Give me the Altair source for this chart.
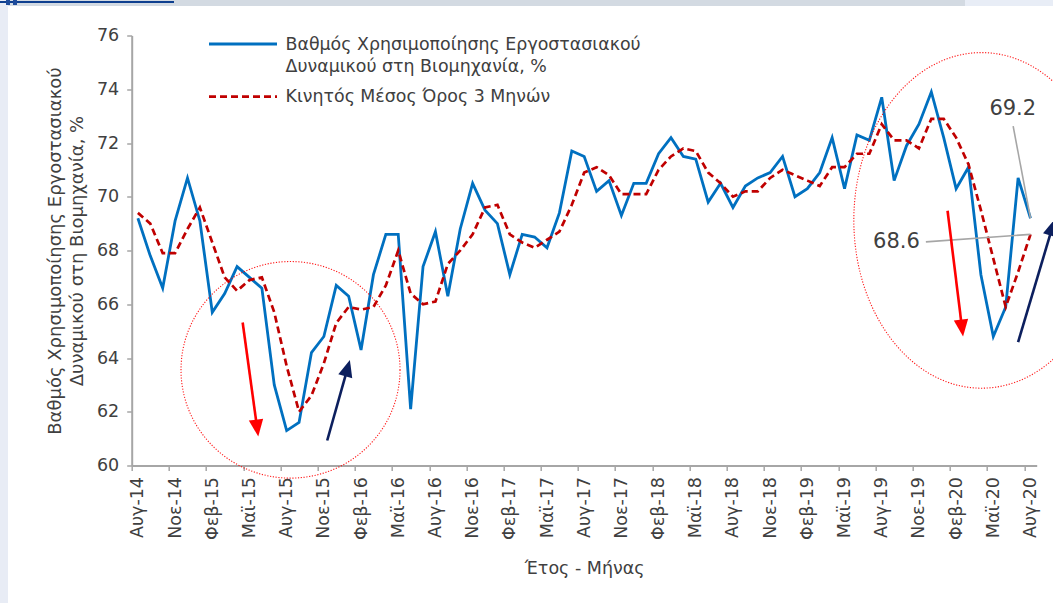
import json
import math

import altair as alt
import pandas as pd

# Capacity utilisation in industry (%), monthly, Aug-2014 .. Aug-2020
UTILISATION = [
    69.2, 67.8, 66.6, 69.1, 70.7, 69.1, 65.7, 66.4, 67.4, 67.0, 66.6, 63.0,
    61.3, 61.6, 64.2, 64.8, 66.7, 66.3, 64.3, 67.1, 68.6, 68.6, 62.1, 67.4,
    68.7, 66.3, 68.8, 70.5, 69.5, 69.0, 67.1, 68.6, 68.5, 68.1, 69.4, 71.7,
    71.5, 70.2, 70.6, 69.3, 70.5, 70.5, 71.6, 72.2, 71.5, 71.4, 69.8, 70.5,
    69.6, 70.4, 70.7, 70.9, 71.5, 70.0, 70.3, 70.9, 72.2, 70.3, 72.3, 72.1,
    73.7, 70.6, 71.9, 72.7, 73.9, 72.2, 70.3, 71.1, 67.1, 64.8, 65.9, 70.7,
    69.2,
]
# 3-month moving average, same months
MOVING_AVG = [
    69.4, 69.0, 67.9, 67.9, 68.8, 69.6, 68.3, 67.0, 66.5, 66.9, 67.0, 65.7,
    63.7, 62.0, 62.6, 63.8, 65.3, 65.9, 65.8, 65.9, 66.7, 68.0, 66.4, 66.0,
    66.1, 67.5, 68.0, 68.6, 69.6, 69.7, 68.6, 68.3, 68.1, 68.4, 68.7, 69.7,
    70.9, 71.1, 70.8, 70.1, 70.1, 70.1, 71.0, 71.5, 71.8, 71.7, 70.9, 70.5,
    70.0, 70.2, 70.2, 70.7, 71.0, 70.8, 70.6, 70.4, 71.1, 71.1, 71.6, 71.6,
    72.7, 72.1, 72.1, 71.8, 72.9, 72.9, 72.2, 71.2, 69.5, 67.7, 65.9, 67.2,
    68.6,
]
# one label every third month
TICK_LABELS = [
    "Αυγ-14", "Νοε-14", "Φεβ-15", "Μαϊ-15", "Αυγ-15", "Νοε-15", "Φεβ-16",
    "Μαϊ-16", "Αυγ-16", "Νοε-16", "Φεβ-17", "Μαϊ-17", "Αυγ-17", "Νοε-17",
    "Φεβ-18", "Μαϊ-18", "Αυγ-18", "Νοε-18", "Φεβ-19", "Μαϊ-19", "Αυγ-19",
    "Νοε-19", "Φεβ-20", "Μαϊ-20", "Αυγ-20",
]
Y_TICKS = [60, 62, 64, 66, 68, 70, 72, 74, 76]

SERIES_NAME = ["Βαθμός Χρησιμοποίησης Εργοστασιακού", "Δυναμικού στη Βιομηχανία, %"]
AVG_NAME = "Κινητός Μέσος Όρος 3 Μηνών"
Y_TITLE = ["Βαθμός Χρησιμοποίησης Εργοστασιακού", "Δυναμικού στη Βιομηχανία, %"]
X_TITLE = "Έτος - Μήνας"

# highlighted episodes: centre (month index, value) and radii in px
ELLIPSES = [
    {"t": 12.31, "v": 63.56, "rx": 109.5, "ry": 108.3},
    {"t": 68.05, "v": 69.12, "rx": 127.7, "ry": 167.8},
]
# trend arrows: start (t0, v0) -> tip (t1, v1)
ARROWS = [
    {"t0": 8.45, "v0": 65.32, "t1": 9.71, "v1": 61.08, "c": "#FF0000"},
    {"t0": 15.27, "v0": 60.93, "t1": 17.10, "v1": 63.93, "c": "#0C1F5E"},
    {"t0": 65.31, "v0": 69.48, "t1": 66.56, "v1": 64.80, "c": "#FF0000"},
    {"t0": 71.00, "v0": 64.59, "t1": 73.96, "v1": 69.17, "c": "#0C1F5E"},
]

FONT = "DejaVu Sans"
TEXT = "#404040"
AXIS_GREY = "#A6A6A6"
BLUE = "#0070C0"
DARK_RED = "#C00000"

W, H = 905, 430
PAD = {"left": 131.7, "top": 35.5, "right": 16.3, "bottom": 137.5}
T_MIN, T_MAX = -0.5, len(UTILISATION) - 0.5
V_MIN, V_MAX = 60, 76
PX_T = W / (T_MAX - T_MIN)
PX_V = H / (V_MAX - V_MIN)

df = pd.DataFrame({
    "t": list(range(len(UTILISATION))),
    "util": UTILISATION,
    "avg": MOVING_AVG,
})

x_scale = alt.Scale(domain=[T_MIN, T_MAX], nice=False, zero=False)
y_scale = alt.Scale(domain=[V_MIN, V_MAX], nice=False, zero=False)

labels_js = json.dumps(TICK_LABELS, ensure_ascii=False)
x_axis = alt.Axis(
    values=list(range(0, len(UTILISATION), 3)),
    labelExpr=f"{labels_js}[round(datum.value / 3)]",
    labelAngle=270,
    labelFont=FONT, labelFontSize=17.5, labelColor=TEXT,
    labelPadding=6, labelFlush=False, labelOverlap=False, labelBound=False,
    tickOffset=-PX_T / 2, labelOffset=PX_T / 2,
    tickSize=5, tickWidth=1.5, tickColor=AXIS_GREY,
    domainColor=AXIS_GREY, domainWidth=2,
    grid=False,
    title=X_TITLE, titleFont=FONT, titleFontSize=17.5, titleFontWeight="normal",
    titleColor=TEXT, titlePadding=20,
)
y_axis = alt.Axis(
    values=Y_TICKS,
    labelFont=FONT, labelFontSize=17.5, labelColor=TEXT, labelPadding=8,
    tickSize=5, tickWidth=1.5, tickColor=AXIS_GREY,
    domainColor=AXIS_GREY, domainWidth=2,
    grid=False,
    title=Y_TITLE, titleFont=FONT, titleFontSize=18, titleFontWeight="normal",
    titleColor=TEXT, titlePadding=10, titleLineHeight=22,
)


def X(field):
    return alt.X(field, scale=x_scale, axis=x_axis)


def Y(field):
    return alt.Y(field, scale=y_scale, axis=y_axis)


util_line = alt.Chart(df).mark_line(color=BLUE, strokeWidth=2.8).encode(
    x=X("t:Q"), y=Y("util:Q"),
)
avg_line = alt.Chart(df).mark_line(
    color=DARK_RED, strokeWidth=2.7, strokeDash=[7, 4]
).encode(x=X("t:Q"), y=Y("avg:Q"))


def ellipse_path(ratio):
    """Unit ellipse (x radius 1) drawn with four cubic curves."""
    k = 0.5523
    b = ratio
    return (
        f"M1,0 C1,{k*b:.4f} {k:.4f},{b:.4f} 0,{b:.4f} "
        f"C{-k:.4f},{b:.4f} -1,{k*b:.4f} -1,0 "
        f"C-1,{-k*b:.4f} {-k:.4f},{-b:.4f} 0,{-b:.4f} "
        f"C{k:.4f},{-b:.4f} 1,{-k*b:.4f} 1,0 Z"
    )


ellipse_layers = []
for e in ELLIPSES:
    ellipse_layers.append(
        alt.Chart(pd.DataFrame({"t": [e["t"]], "v": [e["v"]]})).mark_point(
            shape=ellipse_path(e["ry"] / e["rx"]),
            size=(2 * e["rx"]) ** 2,
            filled=False, stroke="#FF0000", strokeWidth=1.1,
            strokeDash=[1.2, 1.6], opacity=0.9,
        ).encode(x=X("t:Q"), y=Y("v:Q"))
    )

HEAD_LEN = 17
rows = []
for a in ARROWS:
    dx = (a["t1"] - a["t0"]) * PX_T
    dy = -(a["v1"] - a["v0"]) * PX_V
    length = math.hypot(dx, dy)
    frac = (length - HEAD_LEN * 0.85) / length
    rows.append({
        "t0": a["t0"], "v0": a["v0"],
        "te": a["t0"] + (a["t1"] - a["t0"]) * frac,
        "ve": a["v0"] + (a["v1"] - a["v0"]) * frac,
        "t1": a["t1"], "v1": a["v1"], "c": a["c"],
        "ang": math.degrees(math.atan2(dx, -dy)) % 360,
    })
arrow_df = pd.DataFrame(rows)

arrow_shafts = alt.Chart(arrow_df).mark_rule(strokeWidth=2.6).encode(
    x=X("t0:Q"), y=Y("v0:Q"), x2="te:Q", y2="ve:Q",
    color=alt.Color("c:N", scale=None),
)
arrow_heads = alt.Chart(arrow_df).mark_point(
    shape="M0,0 L-0.85,2 L0.85,2 Z", size=HEAD_LEN ** 2, filled=True, opacity=1,
).encode(
    x=X("t1:Q"), y=Y("v1:Q"),
    angle=alt.Angle("ang:Q", scale=None),
    color=alt.Color("c:N", scale=None),
)

# call-outs for the latest month
last_t = len(UTILISATION) - 1
callouts = pd.DataFrame({
    "lt": [70.6, 63.56],
    "lv": [72.63, 68.32],
    "pt": [last_t, last_t],
    "pv": [UTILISATION[-1], MOVING_AVG[-1]],
    "tt": [70.57, 61.19],
    "tv": [73.27, 68.33],
    "label": [f"{UTILISATION[-1]:.1f}", f"{MOVING_AVG[-1]:.1f}"],
})
leaders = alt.Chart(callouts).mark_rule(color="#A6A6A6", strokeWidth=1.6).encode(
    x=X("lt:Q"), y=Y("lv:Q"), x2="pt:Q", y2="pv:Q",
)
callout_text = alt.Chart(callouts).mark_text(
    font=FONT, fontSize=21, color=TEXT, align="center", baseline="middle",
).encode(x=X("tt:Q"), y=Y("tv:Q"), text="label:N")

# legend drawn inside the plot, top left
one = pd.DataFrame({"k": [0]})
OX, OY = PAD["left"], PAD["top"]


def hline(x0, x1, y, **kw):
    return alt.Chart(one).mark_rule(**kw).encode(
        x=alt.value(x0 - OX), x2=alt.value(x1 - OX), y=alt.value(y - OY)
    )


def label(txt, x, y, **kw):
    return alt.Chart(one).mark_text(
        text=txt, font=FONT, color=TEXT, align="left", baseline="alphabetic", **kw
    ).encode(x=alt.value(x - OX), y=alt.value(y - OY))


def box(x0, x1, y0, y1, color):
    return alt.Chart(one).mark_rect(color=color).encode(
        x=alt.value(x0 - OX), x2=alt.value(x1 - OX),
        y=alt.value(y0 - OY), y2=alt.value(y1 - OY),
    )


legend = [
    hline(209, 277, 44, color=BLUE, strokeWidth=2.8),
    label(SERIES_NAME[0], 285.5, 49.5, fontSize=17.4),
    label(SERIES_NAME[1], 285.5, 71.8, fontSize=17.4),
    hline(209, 277, 96.7, color=DARK_RED, strokeWidth=2.7, strokeDash=[7, 4]),
    label(AVG_NAME, 285.5, 101.8, fontSize=17.4),
]

# page frame: side strip and header band
frame = [
    box(0, 8, 0, 603, "#E8ECF5"),
    box(8, 965, 0, 6, "#D3DAE2"),
    box(965, 1053, 0, 6, "#E8EDF6"),
    box(0, 174, 1, 3, "#0E3F8F"),
    box(6, 10, 0, 5, "#1D4B9B"),
    box(13, 17, 0, 5, "#1D4B9B"),
]

chart = alt.layer(
    util_line, avg_line, *ellipse_layers, leaders, callout_text,
    arrow_shafts, arrow_heads, *legend, *frame,
).properties(
    width=W, height=H, padding=PAD,
    autosize=alt.AutoSizeParams(type="none"),
    background="white",
).configure_view(stroke=None)

chart.save("out.html", embed_options={"renderer": "svg", "actions": False})
